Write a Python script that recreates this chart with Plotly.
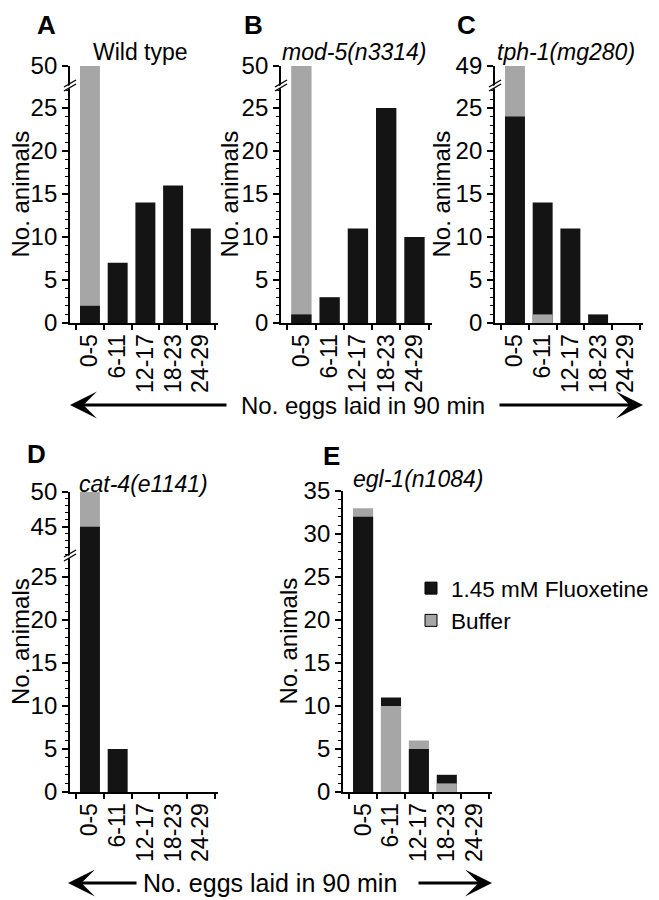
import plotly.graph_objects as go

# ---------------- data ----------------
categories = ["0-5", "6-11", "12-17", "18-23", "24-29"]
panel_ids = ["A", "B", "C", "D", "E"]
panel_titles = ["Wild type", "<i>mod-5(n3314)</i>", "<i>tph-1(mg280)</i>",
                "<i>cat-4(e1141)</i>", "<i>egl-1(n1084)</i>"]
fluoxetine_A = [2, 7, 14, 16, 11]
buffer_A = [50, 0, 0, 0, 0]
fluoxetine_B = [1, 3, 11, 25, 10]
buffer_B = [50, 0, 0, 0, 0]
fluoxetine_C = [24, 14, 11, 1, 0]
buffer_C = [49, 1, 0, 0, 0]
fluoxetine_D = [45, 5, 0, 0, 0]
buffer_D = [50, 0, 0, 0, 0]
fluoxetine_E = [32, 11, 5, 2, 0]
buffer_E = [33, 10, 6, 1, 0]
series_names = ["1.45 mM Fluoxetine", "Buffer"]
x_title = "No. eggs laid in 90 min"
y_title = "No. animals"

fluox = dict(A=fluoxetine_A, B=fluoxetine_B, C=fluoxetine_C, D=fluoxetine_D, E=fluoxetine_E)
buff = dict(A=buffer_A, B=buffer_B, C=buffer_C, D=buffer_D, E=buffer_E)

# ---------------- styling / geometry ----------------
PAGE_OFF = 8                      # default body margin of the html page
W, H = 659 - PAGE_OFF, 900 - PAGE_OFF
FONT = "Liberation Sans, Arial, Helvetica, sans-serif"
BLACK = "#141414"
GRAY = "#a6a6a6"


def px(x):
    return (x - PAGE_OFF) / W


def py(y):
    return 1 - (y - PAGE_OFF) / H


# pixel geometry (screen coordinates) for each panel
geom = {
    "A": dict(x0=70, x1=218, zero=323, brk=86, top=66, lo=[0, 27.56], up=[47.67, 50], upt=[50], upminor=False),
    "B": dict(x0=281, x1=432, zero=323, brk=86, top=66, lo=[0, 27.56], up=[47.67, 50], upt=[50], upminor=False),
    "C": dict(x0=495, x1=643, zero=323, brk=86, top=66, lo=[0, 27.56], up=[46.67, 49], upt=[49], upminor=False),
    "D": dict(x0=70, x1=218, zero=792, brk=556, top=492, lo=[0, 27.44], up=[40.8, 50], upt=[45, 50], upminor=True),
    "E": dict(x0=343, x1=492, zero=792, brk=None, top=491, lo=[0, 35], up=None, upt=None, upminor=False),
}
title_pos = {"A": (140, 52), "B": (354, 52), "C": (566, 52), "D": (143, 484), "E": (418, 479)}
letter_pos = {"A": (46, 8), "B": (254, 8), "C": (466, 8), "D": (36, 437), "E": (331, 439)}
ytitle_x = {"A": 20, "B": 229, "C": 441, "D": 20, "E": 288}

fig = go.Figure()
layout = dict(
    width=W, height=H, margin=dict(l=0, r=0, t=0, b=0, pad=0, autoexpand=False),
    paper_bgcolor="white", plot_bgcolor="white",
    barmode="overlay", bargap=0.28, showlegend=True,
    font=dict(family=FONT, color="black", size=23),
)
annotations = []
shapes = []


def note(text, x, y, size, angle=0, yanchor="middle"):
    return dict(text=text, x=px(x), y=py(y), xref="paper", yref="paper",
                xanchor="center", yanchor=yanchor, showarrow=False,
                textangle=angle, font=dict(size=size, family=FONT, color="black"))


xcount = 0
ycount = 0
for pid, ttl in zip(panel_ids, panel_titles):
    g = geom[pid]
    xcount += 1
    xname = "x" if xcount == 1 else f"x{xcount}"
    xkey = "xaxis" if xcount == 1 else f"xaxis{xcount}"
    ycount += 1
    ylo = "y" if ycount == 1 else f"y{ycount}"
    ylokey = "yaxis" if ycount == 1 else f"yaxis{ycount}"
    yaxes = [(ylo, ylokey)]
    if g["up"] is not None:
        ycount += 1
        yaxes.append((f"y{ycount}", f"yaxis{ycount}"))

    brk = g["brk"] if g["brk"] is not None else g["top"]
    layout[xkey] = dict(
        domain=[px(g["x0"]), px(g["x1"])], anchor=ylo, type="category",
        categoryorder="array", categoryarray=categories,
        range=[-0.72, 4.62], tickmode="linear", tick0=0, dtick=1,
        tickson="boundaries", ticks="outside", ticklen=5,
        tickwidth=1.5, tickcolor="black", showline=True, linecolor="black",
        linewidth=1.8, tickangle=-90, tickfont=dict(size=23, family=FONT),
        showgrid=False, zeroline=False, fixedrange=True, automargin=False,
    )
    layout[ylokey] = dict(
        domain=[py(g["zero"]), py(brk)], anchor=xname, range=g["lo"],
        tickmode="linear", tick0=0, dtick=5, ticks="outside", ticklen=6,
        tickwidth=1.5, tickcolor="black", showline=True, linecolor="black",
        linewidth=1.8, showgrid=False, zeroline=False, automargin=False,
        tickfont=dict(size=24, family=FONT),
        minor=dict(ticks="outside", dtick=1, ticklen=3, tickwidth=1, tickcolor="black", showgrid=False),
    )
    if g["up"] is not None:
        upname, upkey = yaxes[1]
        upd = dict(
            domain=[py(brk), py(g["top"])], anchor=xname, range=g["up"],
            tickmode="array", tickvals=g["upt"], ticks="outside", ticklen=6,
            tickwidth=1.5, tickcolor="black", showline=True, linecolor="black",
            linewidth=1.8, showgrid=False, zeroline=False, automargin=False,
            tickfont=dict(size=24, family=FONT),
        )
        if g["upminor"]:
            upd["minor"] = dict(ticks="outside", dtick=1, ticklen=3, tickwidth=1,
                                tickcolor="black", showgrid=False)
        layout[upkey] = upd
        # axis break marks
        cx, cy = g["x0"], brk
        shapes.append(dict(type="path", xref="paper", yref="paper", layer="above",
                           path=f"M{px(cx-5)},{py(cy+2)} L{px(cx+5)},{py(cy-4)} L{px(cx+5)},{py(cy-1)} L{px(cx-5)},{py(cy+5)} Z",
                           fillcolor="white", line=dict(width=0)))
        for off in (0, 4):
            shapes.append(dict(type="line", xref="paper", yref="paper", layer="above",
                               x0=px(cx - 6), y0=py(cy + 1 + off), x1=px(cx + 6), y1=py(cy - 6 + off),
                               line=dict(color="black", width=1.4)))

    f = fluox[pid]
    b = buff[pid]
    back_f = [fv if fv >= bv else None for fv, bv in zip(f, b)]
    back_b = [bv if bv > fv else None for fv, bv in zip(f, b)]
    front_f = [fv if fv < bv else None for fv, bv in zip(f, b)]
    front_b = [bv if bv <= fv else None for fv, bv in zip(f, b)]
    for yname, _ in yaxes:
        for vals, col in ((back_f, BLACK), (back_b, GRAY), (front_f, BLACK), (front_b, GRAY)):
            fig.add_trace(go.Bar(x=categories, y=vals, xaxis=xname, yaxis=yname,
                                 marker=dict(color=col, line=dict(width=0)),
                                 showlegend=False, hoverinfo="skip"))

    # titles, letters, y-axis titles
    tx, ty = title_pos[pid]
    annotations.append(note(ttl, tx, ty, 23))
    lx, ly = letter_pos[pid]
    annotations.append(note(f"<b>{pid}</b>", lx, ly, 26, yanchor="top"))
    annotations.append(note(y_title, ytitle_x[pid], (g["top"] + g["zero"]) / 2, 24, angle=-90))

# legend entries
for name, col in zip(series_names, [BLACK, GRAY]):
    fig.add_trace(go.Bar(x=[None], y=[None], name=name, xaxis="x5", yaxis=f"y{ycount}",
                         marker=dict(color=col, line=dict(color="black", width=1))))
layout["legend"] = dict(x=px(411), y=py(567), xanchor="left", yanchor="top",
                        font=dict(size=22.5, family=FONT), bgcolor="rgba(0,0,0,0)",
                        itemwidth=30, tracegroupgap=0)

# double-headed arrows with x-axis title
for (lt, lend, ts, rs, rt, ay_, fs) in [(70, 228, 363, 498, 643, 405, 24),
                                         (68, 138, 270, 417, 492, 883, 25)]:
    annotations.append(dict(text="", x=px(lt), y=py(ay_), xref="paper", yref="paper",
                            ax=lend - lt, ay=0, showarrow=True, arrowhead=3, arrowsize=1.5,
                            arrowwidth=3, arrowcolor="black", standoff=0))
    annotations.append(dict(text="", x=px(rt), y=py(ay_), xref="paper", yref="paper",
                            ax=rs - rt, ay=0, showarrow=True, arrowhead=3, arrowsize=1.5,
                            arrowwidth=3, arrowcolor="black", standoff=0))
    annotations.append(note(x_title, ts, ay_, fs))

layout["annotations"] = annotations
layout["shapes"] = shapes
fig.update_layout(**layout)
fig.write_html("out.html")
